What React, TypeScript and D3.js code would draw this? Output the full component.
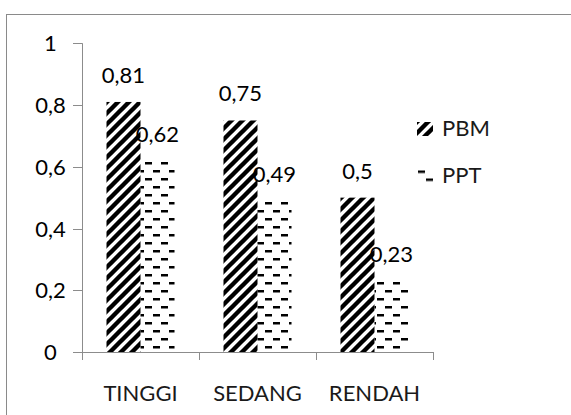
import React from "react";
import * as d3 from "d3";

const categories = ["TINGGI", "SEDANG", "RENDAH"];
const seriesNames = ["PBM", "PPT"];
const pbmValues = [0.81, 0.75, 0.5];
const pptValues = [0.62, 0.49, 0.23];
const yTicks = [0, 0.2, 0.4, 0.6, 0.8, 1];
const yTickLabels = ["0", "0,2", "0,4", "0,6", "0,8", "1"];

const W = 571;
const H = 415;
const FONT = "Lato, 'Open Sans', sans-serif";

export default function App() {
  const x0 = d3.scaleBand<string>().domain(categories).range([82, 433]).padding(0);
  const x1 = d3
    .scaleBand<string>()
    .domain(seriesNames)
    .range([0, x0.bandwidth()])
    .paddingInner(0)
    .paddingOuter(0.72);
  const y = d3.scaleLinear().domain([0, 1]).range([352, 43.3]);
  const fmt = (v: number) => String(v).replace(".", ",");
  const series = [
    { name: "PBM", values: pbmValues, fill: "url(#diag)" },
    { name: "PPT", values: pptValues, fill: "url(#dash)" },
  ];
  const axisColor = "#8c8c8c";
  const bottom = y(0);

  return (
    <svg
      width={W}
      height={H}
      style={{ position: "absolute", left: 0, top: 0, background: "#fff" }}
    >
      <defs>
        <pattern id="diag" patternUnits="userSpaceOnUse" width={11} height={11}>
          <path
            d="M-2.75,2.75 L2.75,-2.75 M0,11 L11,0 M8.25,13.75 L13.75,8.25"
            stroke="#000"
            strokeWidth={4.4}
          />
        </pattern>
        <pattern id="dash" patternUnits="userSpaceOnUse" width={16} height={16}>
          <rect x={1} y={2} width={7} height={2.5} fill="#000" />
          <rect x={9} y={10} width={7} height={2.5} fill="#000" />
        </pattern>
      </defs>
      <rect x={6.5} y={14.5} width={700} height={500} fill="#fff" stroke="#8a8a8a" strokeWidth={1} />

      {series.map((s) =>
        s.values.map((v, i) => {
          const bx = (x0(categories[i]) as number) + (x1(s.name) as number);
          return (
            <rect
              key={s.name + i}
              x={bx}
              y={y(v)}
              width={x1.bandwidth()}
              height={bottom - y(v)}
              fill={s.fill}
            />
          );
        })
      )}

      {/* axes */}
      <line x1={82.5} x2={82.5} y1={y(1)} y2={bottom + 8} stroke={axisColor} />
      <line x1={73} x2={433.5} y1={bottom + 0.5} y2={bottom + 0.5} stroke={axisColor} />
      {yTicks.map((t, i) => (
        <g key={"yt" + i}>
          <line x1={73} x2={82.5} y1={Math.round(y(t)) + 0.5} y2={Math.round(y(t)) + 0.5} stroke={axisColor} />
          <text
            x={50.5}
            y={y(t) + 8}
            textAnchor="middle"
            fontFamily={FONT}
            fontSize={22}
            fill="#000"
          >
            {yTickLabels[i]}
          </text>
        </g>
      ))}
      {[...categories.map((c) => x0(c) as number), 433].map((xv, i) => (
        <line
          key={"xt" + i}
          x1={Math.round(xv) + 0.5}
          x2={Math.round(xv) + 0.5}
          y1={bottom}
          y2={bottom + 8}
          stroke={axisColor}
        />
      ))}
      {categories.map((c) => (
        <text
          key={"xl" + c}
          x={(x0(c) as number) + x0.bandwidth() / 2}
          y={401}
          textAnchor="middle"
          fontFamily={FONT}
          fontSize={22}
          fill="#1a1a1a"
        >
          {c}
        </text>
      ))}

      {/* data labels */}
      {series.map((s) =>
        s.values.map((v, i) => (
          <text
            key={"dl" + s.name + i}
            x={(x0(categories[i]) as number) + (x1(s.name) as number) + x1.bandwidth() / 2}
            y={y(v) - 19}
            textAnchor="middle"
            fontFamily={FONT}
            fontSize={22}
            fill="#000"
          >
            {fmt(v)}
          </text>
        ))
      )}

      {/* legend */}
      {series.map((s, i) => (
        <g key={"lg" + s.name} transform={`translate(417, ${122 + i * 46.5})`}>
          <rect x={0} y={0} width={16} height={14} fill={s.fill} />
          <text x={25} y={14} fontFamily={FONT} fontSize={22} fill="#1a1a1a">
            {s.name}
          </text>
        </g>
      ))}
    </svg>
  );
}
